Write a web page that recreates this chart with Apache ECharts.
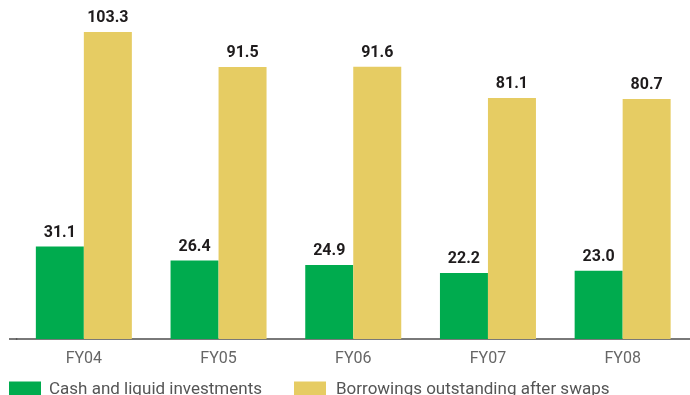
<!DOCTYPE html>
<html>
<head>
<meta charset="utf-8">
<script src="https://cdn.jsdelivr.net/npm/echarts@6/dist/echarts.min.js"></script>
<style>
  html, body { margin: 0; padding: 0; background: #ffffff; }
  #chart { width: 690px; height: 395px; }
</style>
</head>
<body>
<div id="chart"></div>
<script>
// Fiscal years on the category axis
const categories = ['FY04', 'FY05', 'FY06', 'FY07', 'FY08'];
// Values in each series
const cashValues = [31.1, 26.4, 24.9, 22.2, 23.0];
const borrowingValues = [103.3, 91.5, 91.6, 81.1, 80.7];
// Series names shown in the legend
const cashName = 'Cash and liquid investments';
const borrowName = 'Borrowings outstanding after swaps';

const GREEN = '#00ab4e';
const YELLOW = '#e6cc63';
const FONT = 'Roboto';
const AXIS_COLOR = '#4d4d4d';

const chart = echarts.init(document.getElementById('chart'), null, { renderer: 'canvas' });

const valueLabel = {
  show: true,
  position: 'top',
  distance: 6,
  color: '#1e1b1c',
  fontFamily: FONT,
  fontWeight: 'bold',
  fontSize: 16,
  formatter: p => p.value.toFixed(1)
};

const legendText = { color: '#555555', fontFamily: FONT, fontSize: 17 };

chart.setOption({
  animation: false,
  backgroundColor: '#ffffff',
  grid: { left: 16.5, right: -1.5, top: 12, bottom: 56, containLabel: false },
  legend: [
    {
      data: [cashName],
      left: 9, top: 381, padding: 0,
      itemWidth: 32, itemHeight: 16,
      icon: 'rect',
      textStyle: Object.assign({ padding: [0, 0, 0, 3] }, legendText)
    },
    {
      data: [borrowName],
      left: 294, top: 381, padding: 0,
      itemWidth: 32, itemHeight: 16,
      icon: 'rect',
      textStyle: Object.assign({ padding: [0, 0, 0, 5] }, legendText)
    }
  ],
  xAxis: {
    type: 'category',
    data: categories,
    axisLine: { show: true, lineStyle: { color: AXIS_COLOR, width: 1.5 } },
    axisTick: { show: false },
    axisLabel: { color: '#666666', fontFamily: FONT, fontSize: 16, margin: 12 }
  },
  yAxis: {
    type: 'value',
    min: 0,
    max: 110,
    show: false,
    splitLine: { show: false }
  },
  series: [
    {
      name: cashName,
      type: 'bar',
      data: cashValues,
      barWidth: 48,
      barGap: '0%',
      itemStyle: { color: GREEN },
      label: valueLabel
    },
    {
      name: borrowName,
      type: 'bar',
      data: borrowingValues,
      barWidth: 48,
      barGap: '0%',
      itemStyle: { color: YELLOW },
      label: valueLabel
    }
  ]
});

// The baseline runs a little past the first band on the left
const baseY = chart.convertToPixel({ yAxisIndex: 0 }, 0);
const gridLeft = chart.convertToPixel({ xAxisIndex: 0 }, categories[0]) - 67.5;
chart.setOption({
  graphic: [{
    type: 'line',
    shape: { x1: 9, y1: baseY, x2: gridLeft + 1, y2: baseY },
    style: { stroke: AXIS_COLOR, lineWidth: 1.5 },
    silent: true
  }]
});
</script>
</body>
</html>
